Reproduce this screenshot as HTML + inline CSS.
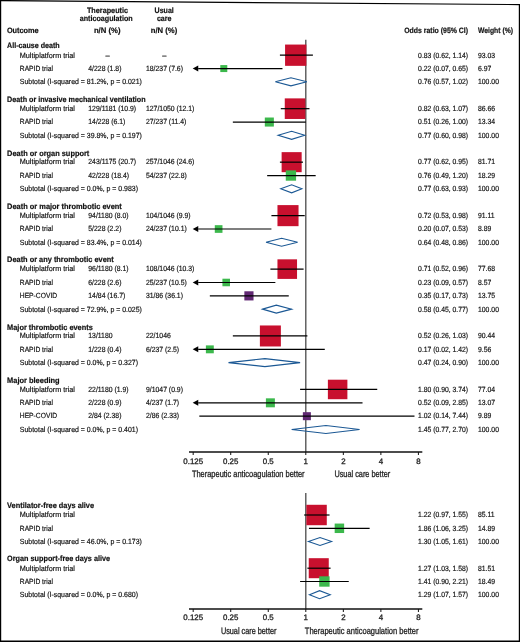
<!DOCTYPE html>
<html><head><meta charset="utf-8"><style>
html,body{margin:0;padding:0;background:#fff;}
svg{display:block;will-change:transform;}
text{font-family:"Liberation Sans",sans-serif;fill:#111;text-rendering:geometricPrecision;stroke:#111;stroke-width:0.18px;}
text.c{fill:#222;stroke:#222;stroke-width:0.3px;}
</style></head><body>
<svg width="520" height="642" viewBox="0 0 520 642">
<rect width="520" height="642" fill="#fff"/>
<line x1="305.80" y1="39.8" x2="305.80" y2="452.0" stroke="#4a4a4a" stroke-width="1.3"/><line x1="189" y1="452.0" x2="422.3" y2="452.0" stroke="#111" stroke-width="1.35"/><line x1="193.18" y1="452.0" x2="193.18" y2="455.0" stroke="#111" stroke-width="1"/><line x1="230.72" y1="452.0" x2="230.72" y2="455.0" stroke="#111" stroke-width="1"/><line x1="268.26" y1="452.0" x2="268.26" y2="455.0" stroke="#111" stroke-width="1"/><line x1="305.80" y1="452.0" x2="305.80" y2="455.0" stroke="#111" stroke-width="1"/><line x1="343.34" y1="452.0" x2="343.34" y2="455.0" stroke="#111" stroke-width="1"/><line x1="380.88" y1="452.0" x2="380.88" y2="455.0" stroke="#111" stroke-width="1"/><line x1="418.42" y1="452.0" x2="418.42" y2="455.0" stroke="#111" stroke-width="1"/><line x1="305.80" y1="493.0" x2="305.80" y2="609.0" stroke="#4a4a4a" stroke-width="1.3"/><line x1="189" y1="609.0" x2="422.3" y2="609.0" stroke="#111" stroke-width="1.35"/><line x1="193.18" y1="609.0" x2="193.18" y2="612.0" stroke="#111" stroke-width="1"/><line x1="230.72" y1="609.0" x2="230.72" y2="612.0" stroke="#111" stroke-width="1"/><line x1="268.26" y1="609.0" x2="268.26" y2="612.0" stroke="#111" stroke-width="1"/><line x1="305.80" y1="609.0" x2="305.80" y2="612.0" stroke="#111" stroke-width="1"/><line x1="343.34" y1="609.0" x2="343.34" y2="612.0" stroke="#111" stroke-width="1"/><line x1="380.88" y1="609.0" x2="380.88" y2="612.0" stroke="#111" stroke-width="1"/><line x1="418.42" y1="609.0" x2="418.42" y2="612.0" stroke="#111" stroke-width="1"/>
<rect x="285.07" y="44.56" width="21.28" height="21.28" fill="#c8102e"/><line x1="279.91" y1="55.20" x2="312.90" y2="55.20" stroke="#000" stroke-width="1.2"/><rect x="220.30" y="65.08" width="6.99" height="6.99" fill="#3cb84c"/><line x1="198.18" y1="68.57" x2="282.47" y2="68.57" stroke="#000" stroke-width="1.2"/><path d="M192.68,68.57 L198.28,65.57 L198.28,71.57 Z" fill="#000"/><path d="M275.36,81.84 L290.94,77.84 L306.87,81.84 L290.94,85.84 Z" fill="none" stroke="#1b5894" stroke-width="1.1"/><rect x="284.76" y="98.38" width="20.59" height="20.59" fill="#c8102e"/><line x1="280.78" y1="108.68" x2="309.46" y2="108.68" stroke="#000" stroke-width="1.2"/><rect x="264.81" y="117.52" width="9.05" height="9.05" fill="#3cb84c"/><line x1="232.84" y1="122.05" x2="305.80" y2="122.05" stroke="#000" stroke-width="1.2"/><path d="M278.13,135.32 L291.64,131.32 L304.71,135.32 L291.64,139.32 Z" fill="none" stroke="#1b5894" stroke-width="1.1"/><rect x="281.62" y="152.14" width="20.04" height="20.04" fill="#c8102e"/><line x1="279.91" y1="162.16" x2="303.02" y2="162.16" stroke="#000" stroke-width="1.2"/><rect x="285.77" y="170.37" width="10.32" height="10.32" fill="#3cb84c"/><line x1="267.17" y1="175.53" x2="315.67" y2="175.53" stroke="#000" stroke-width="1.2"/><path d="M280.78,188.80 L291.64,184.80 L301.87,188.80 L291.64,192.80 Z" fill="none" stroke="#1b5894" stroke-width="1.1"/><rect x="277.47" y="205.10" width="21.07" height="21.07" fill="#c8102e"/><line x1="271.42" y1="215.64" x2="304.71" y2="215.64" stroke="#000" stroke-width="1.2"/><rect x="214.79" y="225.17" width="7.68" height="7.68" fill="#3cb84c"/><line x1="198.18" y1="229.01" x2="271.42" y2="229.01" stroke="#000" stroke-width="1.2"/><path d="M192.68,229.01 L198.28,226.01 L198.28,232.01 Z" fill="#000"/><path d="M266.05,242.28 L281.63,238.28 L297.63,242.28 L281.63,246.28 Z" fill="none" stroke="#1b5894" stroke-width="1.1"/><rect x="277.46" y="259.33" width="19.58" height="19.58" fill="#c8102e"/><line x1="270.38" y1="269.12" x2="303.59" y2="269.12" stroke="#000" stroke-width="1.2"/><rect x="222.42" y="278.70" width="7.57" height="7.57" fill="#3cb84c"/><line x1="198.18" y1="282.49" x2="275.36" y2="282.49" stroke="#000" stroke-width="1.2"/><path d="M192.68,282.49 L198.28,279.49 L198.28,285.49 Z" fill="#000"/><rect x="244.36" y="291.28" width="9.16" height="9.16" fill="#612873"/><line x1="209.83" y1="295.86" x2="288.76" y2="295.86" stroke="#000" stroke-width="1.2"/><path d="M262.55,309.13 L276.30,305.13 L291.64,309.13 L276.30,313.13 Z" fill="none" stroke="#1b5894" stroke-width="1.1"/><rect x="259.88" y="325.47" width="21.00" height="21.00" fill="#c8102e"/><line x1="232.84" y1="335.97" x2="307.40" y2="335.97" stroke="#000" stroke-width="1.2"/><rect x="205.88" y="345.39" width="7.91" height="7.91" fill="#3cb84c"/><line x1="198.18" y1="349.34" x2="324.79" y2="349.34" stroke="#000" stroke-width="1.2"/><path d="M192.68,349.34 L198.28,346.34 L198.28,352.34 Z" fill="#000"/><path d="M228.51,362.61 L264.91,358.61 L300.09,362.61 L264.91,366.61 Z" fill="none" stroke="#1b5894" stroke-width="1.1"/><rect x="327.88" y="379.70" width="19.51" height="19.51" fill="#c8102e"/><line x1="300.09" y1="389.45" x2="377.24" y2="389.45" stroke="#000" stroke-width="1.2"/><rect x="265.90" y="398.33" width="8.98" height="8.98" fill="#3cb84c"/><line x1="198.18" y1="402.82" x2="362.52" y2="402.82" stroke="#000" stroke-width="1.2"/><path d="M192.68,402.82 L198.28,399.82 L198.28,405.82 Z" fill="#000"/><rect x="302.86" y="412.18" width="8.02" height="8.02" fill="#612873"/><line x1="199.32" y1="416.19" x2="414.49" y2="416.19" stroke="#000" stroke-width="1.2"/><path d="M291.64,429.46 L325.92,425.46 L359.59,429.46 L325.92,433.46 Z" fill="none" stroke="#1b5894" stroke-width="1.1"/><rect x="306.36" y="504.79" width="20.42" height="20.42" fill="#c8102e"/><line x1="304.15" y1="515.00" x2="329.54" y2="515.00" stroke="#000" stroke-width="1.2"/><rect x="334.67" y="523.56" width="9.47" height="9.47" fill="#3cb84c"/><line x1="308.96" y1="528.30" x2="369.63" y2="528.30" stroke="#000" stroke-width="1.2"/><path d="M308.44,541.50 L320.01,537.50 L331.59,541.50 L320.01,545.50 Z" fill="none" stroke="#1b5894" stroke-width="1.1"/><rect x="308.74" y="558.19" width="20.02" height="20.02" fill="#c8102e"/><line x1="307.40" y1="568.20" x2="330.57" y2="568.20" stroke="#000" stroke-width="1.2"/><rect x="319.22" y="576.31" width="10.37" height="10.37" fill="#3cb84c"/><line x1="300.09" y1="581.50" x2="348.75" y2="581.50" stroke="#000" stroke-width="1.2"/><path d="M309.46,594.70 L319.59,590.70 L330.23,594.70 L319.59,598.70 Z" fill="none" stroke="#1b5894" stroke-width="1.1"/>
<text x="107.50" y="12.70" text-anchor="middle" font-weight="bold" font-size="7.9" textLength="41.10" lengthAdjust="spacingAndGlyphs">Therapeutic</text><text x="106.20" y="21.20" text-anchor="middle" font-weight="bold" font-size="7.9" textLength="53.10" lengthAdjust="spacingAndGlyphs">anticoagulation</text><text x="107.20" y="32.80" text-anchor="middle" font-weight="bold" font-size="7.9" textLength="26.60" lengthAdjust="spacingAndGlyphs">n/N (%)</text><text x="164.20" y="12.70" text-anchor="middle" font-weight="bold" font-size="7.9" textLength="19.20" lengthAdjust="spacingAndGlyphs">Usual</text><text x="164.20" y="21.20" text-anchor="middle" font-weight="bold" font-size="7.9" textLength="14.60" lengthAdjust="spacingAndGlyphs">care</text><text x="164.00" y="32.80" text-anchor="middle" font-weight="bold" font-size="7.9" textLength="26.50" lengthAdjust="spacingAndGlyphs">n/N (%)</text><text x="6.90" y="32.70" font-weight="bold" font-size="7.9" textLength="31.80" lengthAdjust="spacingAndGlyphs">Outcome</text><text x="404.20" y="33.20" font-weight="bold" font-size="7.9" textLength="63.90" lengthAdjust="spacingAndGlyphs">Odds ratio (95% CI)</text><text x="478.00" y="33.20" font-weight="bold" font-size="7.9" textLength="35.00" lengthAdjust="spacingAndGlyphs">Weight (%)</text><text x="7.10" y="47.60" font-weight="bold" font-size="7.9" textLength="52.60" lengthAdjust="spacingAndGlyphs">All-cause death</text><text x="19.80" y="57.50" font-size="7.5" textLength="55.20" lengthAdjust="spacingAndGlyphs">Multiplatform trial</text><text x="107.70" y="57.50" text-anchor="middle" font-size="7.5">–</text><text x="164.30" y="57.50" text-anchor="middle" font-size="7.5">–</text><text x="468.10" y="57.50" text-anchor="end" font-size="7.5" textLength="50.00" lengthAdjust="spacingAndGlyphs">0.83 (0.62, 1.14)</text><text x="478.00" y="57.50" font-size="7.5" textLength="17.14" lengthAdjust="spacingAndGlyphs">93.03</text><text x="19.80" y="70.87" font-size="7.5" textLength="33.10" lengthAdjust="spacingAndGlyphs">RAPID trial</text><text x="88.30" y="70.87" font-size="7.5" textLength="33.13" lengthAdjust="spacingAndGlyphs">4/228 (1.8)</text><text x="146.00" y="70.87" font-size="7.5" textLength="36.94" lengthAdjust="spacingAndGlyphs">18/237 (7.6)</text><text x="468.10" y="70.87" text-anchor="end" font-size="7.5" textLength="50.00" lengthAdjust="spacingAndGlyphs">0.22 (0.07, 0.65)</text><text x="478.00" y="70.87" font-size="7.5" textLength="13.33" lengthAdjust="spacingAndGlyphs">6.97</text><text x="19.80" y="84.24" font-size="7.5" textLength="122.08" lengthAdjust="spacingAndGlyphs">Subtotal (I-squared = 81.2%, p = 0.021)</text><text x="468.10" y="84.24" text-anchor="end" font-size="7.5" textLength="50.00" lengthAdjust="spacingAndGlyphs">0.76 (0.57, 1.02)</text><text x="478.00" y="84.24" font-size="7.5" textLength="20.95" lengthAdjust="spacingAndGlyphs">100.00</text><text x="7.10" y="101.50" font-weight="bold" font-size="7.9" textLength="138.50" lengthAdjust="spacingAndGlyphs">Death or invasive mechanical ventilation</text><text x="19.80" y="110.98" font-size="7.5" textLength="55.20" lengthAdjust="spacingAndGlyphs">Multiplatform trial</text><text x="88.30" y="110.98" font-size="7.5" textLength="47.85" lengthAdjust="spacingAndGlyphs">129/1181 (10.9)</text><text x="146.00" y="110.98" font-size="7.5" textLength="48.36" lengthAdjust="spacingAndGlyphs">127/1050 (12.1)</text><text x="468.10" y="110.98" text-anchor="end" font-size="7.5" textLength="50.00" lengthAdjust="spacingAndGlyphs">0.82 (0.63, 1.07)</text><text x="478.00" y="110.98" font-size="7.5" textLength="17.14" lengthAdjust="spacingAndGlyphs">86.66</text><text x="19.80" y="124.35" font-size="7.5" textLength="33.10" lengthAdjust="spacingAndGlyphs">RAPID trial</text><text x="88.30" y="124.35" font-size="7.5" textLength="36.94" lengthAdjust="spacingAndGlyphs">14/228 (6.1)</text><text x="146.00" y="124.35" font-size="7.5" textLength="40.24" lengthAdjust="spacingAndGlyphs">27/237 (11.4)</text><text x="468.10" y="124.35" text-anchor="end" font-size="7.5" textLength="50.00" lengthAdjust="spacingAndGlyphs">0.51 (0.26, 1.00)</text><text x="478.00" y="124.35" font-size="7.5" textLength="17.14" lengthAdjust="spacingAndGlyphs">13.34</text><text x="19.80" y="137.72" font-size="7.5" textLength="122.08" lengthAdjust="spacingAndGlyphs">Subtotal (I-squared = 39.8%, p = 0.197)</text><text x="468.10" y="137.72" text-anchor="end" font-size="7.5" textLength="50.00" lengthAdjust="spacingAndGlyphs">0.77 (0.60, 0.98)</text><text x="478.00" y="137.72" font-size="7.5" textLength="20.95" lengthAdjust="spacingAndGlyphs">100.00</text><text x="7.10" y="155.90" font-weight="bold" font-size="7.9" textLength="82.20" lengthAdjust="spacingAndGlyphs">Death or organ support</text><text x="19.80" y="164.46" font-size="7.5" textLength="55.20" lengthAdjust="spacingAndGlyphs">Multiplatform trial</text><text x="88.30" y="164.46" font-size="7.5" textLength="47.85" lengthAdjust="spacingAndGlyphs">243/1175 (20.7)</text><text x="146.00" y="164.46" font-size="7.5" textLength="48.36" lengthAdjust="spacingAndGlyphs">257/1046 (24.6)</text><text x="468.10" y="164.46" text-anchor="end" font-size="7.5" textLength="50.00" lengthAdjust="spacingAndGlyphs">0.77 (0.62, 0.95)</text><text x="478.00" y="164.46" font-size="7.5" textLength="17.14" lengthAdjust="spacingAndGlyphs">81.71</text><text x="19.80" y="177.83" font-size="7.5" textLength="33.10" lengthAdjust="spacingAndGlyphs">RAPID trial</text><text x="88.30" y="177.83" font-size="7.5" textLength="40.74" lengthAdjust="spacingAndGlyphs">42/228 (18.4)</text><text x="146.00" y="177.83" font-size="7.5" textLength="40.74" lengthAdjust="spacingAndGlyphs">54/237 (22.8)</text><text x="468.10" y="177.83" text-anchor="end" font-size="7.5" textLength="50.00" lengthAdjust="spacingAndGlyphs">0.76 (0.49, 1.20)</text><text x="478.00" y="177.83" font-size="7.5" textLength="17.14" lengthAdjust="spacingAndGlyphs">18.29</text><text x="19.80" y="191.20" font-size="7.5" textLength="118.22" lengthAdjust="spacingAndGlyphs">Subtotal (I-squared = 0.0%, p = 0.983)</text><text x="468.10" y="191.20" text-anchor="end" font-size="7.5" textLength="50.00" lengthAdjust="spacingAndGlyphs">0.77 (0.63, 0.93)</text><text x="478.00" y="191.20" font-size="7.5" textLength="20.95" lengthAdjust="spacingAndGlyphs">100.00</text><text x="7.10" y="208.50" font-weight="bold" font-size="7.9" textLength="114.70" lengthAdjust="spacingAndGlyphs">Death or major thrombotic event</text><text x="19.80" y="217.94" font-size="7.5" textLength="55.20" lengthAdjust="spacingAndGlyphs">Multiplatform trial</text><text x="88.30" y="217.94" font-size="7.5" textLength="40.24" lengthAdjust="spacingAndGlyphs">94/1180 (8.0)</text><text x="146.00" y="217.94" font-size="7.5" textLength="44.55" lengthAdjust="spacingAndGlyphs">104/1046 (9.9)</text><text x="468.10" y="217.94" text-anchor="end" font-size="7.5" textLength="50.00" lengthAdjust="spacingAndGlyphs">0.72 (0.53, 0.98)</text><text x="478.00" y="217.94" font-size="7.5" textLength="16.63" lengthAdjust="spacingAndGlyphs">91.11</text><text x="19.80" y="231.31" font-size="7.5" textLength="33.10" lengthAdjust="spacingAndGlyphs">RAPID trial</text><text x="88.30" y="231.31" font-size="7.5" textLength="33.13" lengthAdjust="spacingAndGlyphs">5/228 (2.2)</text><text x="146.00" y="231.31" font-size="7.5" textLength="40.74" lengthAdjust="spacingAndGlyphs">24/237 (10.1)</text><text x="468.10" y="231.31" text-anchor="end" font-size="7.5" textLength="50.00" lengthAdjust="spacingAndGlyphs">0.20 (0.07, 0.53)</text><text x="478.00" y="231.31" font-size="7.5" textLength="13.33" lengthAdjust="spacingAndGlyphs">8.89</text><text x="19.80" y="244.68" font-size="7.5" textLength="122.08" lengthAdjust="spacingAndGlyphs">Subtotal (I-squared = 83.4%, p = 0.014)</text><text x="468.10" y="244.68" text-anchor="end" font-size="7.5" textLength="50.00" lengthAdjust="spacingAndGlyphs">0.64 (0.48, 0.86)</text><text x="478.00" y="244.68" font-size="7.5" textLength="20.95" lengthAdjust="spacingAndGlyphs">100.00</text><text x="7.10" y="262.20" font-weight="bold" font-size="7.9" textLength="106.70" lengthAdjust="spacingAndGlyphs">Death or any thrombotic event</text><text x="19.80" y="271.42" font-size="7.5" textLength="55.20" lengthAdjust="spacingAndGlyphs">Multiplatform trial</text><text x="88.30" y="271.42" font-size="7.5" textLength="40.24" lengthAdjust="spacingAndGlyphs">96/1180 (8.1)</text><text x="146.00" y="271.42" font-size="7.5" textLength="48.36" lengthAdjust="spacingAndGlyphs">108/1046 (10.3)</text><text x="468.10" y="271.42" text-anchor="end" font-size="7.5" textLength="50.00" lengthAdjust="spacingAndGlyphs">0.71 (0.52, 0.96)</text><text x="478.00" y="271.42" font-size="7.5" textLength="17.14" lengthAdjust="spacingAndGlyphs">77.68</text><text x="19.80" y="284.79" font-size="7.5" textLength="33.10" lengthAdjust="spacingAndGlyphs">RAPID trial</text><text x="88.30" y="284.79" font-size="7.5" textLength="33.13" lengthAdjust="spacingAndGlyphs">6/228 (2.6)</text><text x="146.00" y="284.79" font-size="7.5" textLength="40.74" lengthAdjust="spacingAndGlyphs">25/237 (10.5)</text><text x="468.10" y="284.79" text-anchor="end" font-size="7.5" textLength="50.00" lengthAdjust="spacingAndGlyphs">0.23 (0.09, 0.57)</text><text x="478.00" y="284.79" font-size="7.5" textLength="13.33" lengthAdjust="spacingAndGlyphs">8.57</text><text x="19.80" y="298.16" font-size="7.5" textLength="37.30" lengthAdjust="spacingAndGlyphs">HEP-COVID</text><text x="88.30" y="298.16" font-size="7.5" textLength="36.94" lengthAdjust="spacingAndGlyphs">14/84 (16.7)</text><text x="146.00" y="298.16" font-size="7.5" textLength="36.94" lengthAdjust="spacingAndGlyphs">31/86 (36.1)</text><text x="468.10" y="298.16" text-anchor="end" font-size="7.5" textLength="50.00" lengthAdjust="spacingAndGlyphs">0.35 (0.17, 0.73)</text><text x="478.00" y="298.16" font-size="7.5" textLength="17.14" lengthAdjust="spacingAndGlyphs">13.75</text><text x="19.80" y="311.53" font-size="7.5" textLength="122.08" lengthAdjust="spacingAndGlyphs">Subtotal (I-squared = 72.9%, p = 0.025)</text><text x="468.10" y="311.53" text-anchor="end" font-size="7.5" textLength="50.00" lengthAdjust="spacingAndGlyphs">0.58 (0.45, 0.77)</text><text x="478.00" y="311.53" font-size="7.5" textLength="20.95" lengthAdjust="spacingAndGlyphs">100.00</text><text x="7.10" y="329.50" font-weight="bold" font-size="7.9" textLength="85.70" lengthAdjust="spacingAndGlyphs">Major thrombotic events</text><text x="19.80" y="338.27" font-size="7.5" textLength="55.20" lengthAdjust="spacingAndGlyphs">Multiplatform trial</text><text x="88.30" y="338.27" font-size="7.5" textLength="24.25" lengthAdjust="spacingAndGlyphs">13/1180</text><text x="146.00" y="338.27" font-size="7.5" textLength="24.76" lengthAdjust="spacingAndGlyphs">22/1046</text><text x="468.10" y="338.27" text-anchor="end" font-size="7.5" textLength="50.00" lengthAdjust="spacingAndGlyphs">0.52 (0.26, 1.03)</text><text x="478.00" y="338.27" font-size="7.5" textLength="17.14" lengthAdjust="spacingAndGlyphs">90.44</text><text x="19.80" y="351.64" font-size="7.5" textLength="33.10" lengthAdjust="spacingAndGlyphs">RAPID trial</text><text x="88.30" y="351.64" font-size="7.5" textLength="33.13" lengthAdjust="spacingAndGlyphs">1/228 (0.4)</text><text x="146.00" y="351.64" font-size="7.5" textLength="33.13" lengthAdjust="spacingAndGlyphs">6/237 (2.5)</text><text x="468.10" y="351.64" text-anchor="end" font-size="7.5" textLength="50.00" lengthAdjust="spacingAndGlyphs">0.17 (0.02, 1.42)</text><text x="478.00" y="351.64" font-size="7.5" textLength="13.33" lengthAdjust="spacingAndGlyphs">9.56</text><text x="19.80" y="365.01" font-size="7.5" textLength="118.22" lengthAdjust="spacingAndGlyphs">Subtotal (I-squared = 0.0%, p = 0.327)</text><text x="468.10" y="365.01" text-anchor="end" font-size="7.5" textLength="50.00" lengthAdjust="spacingAndGlyphs">0.47 (0.24, 0.90)</text><text x="478.00" y="365.01" font-size="7.5" textLength="20.95" lengthAdjust="spacingAndGlyphs">100.00</text><text x="7.10" y="382.70" font-weight="bold" font-size="7.9" textLength="52.50" lengthAdjust="spacingAndGlyphs">Major bleeding</text><text x="19.80" y="391.75" font-size="7.5" textLength="55.20" lengthAdjust="spacingAndGlyphs">Multiplatform trial</text><text x="88.30" y="391.75" font-size="7.5" textLength="40.24" lengthAdjust="spacingAndGlyphs">22/1180 (1.9)</text><text x="146.00" y="391.75" font-size="7.5" textLength="36.94" lengthAdjust="spacingAndGlyphs">9/1047 (0.9)</text><text x="468.10" y="391.75" text-anchor="end" font-size="7.5" textLength="50.00" lengthAdjust="spacingAndGlyphs">1.80 (0.90, 3.74)</text><text x="478.00" y="391.75" font-size="7.5" textLength="17.14" lengthAdjust="spacingAndGlyphs">77.04</text><text x="19.80" y="405.12" font-size="7.5" textLength="33.10" lengthAdjust="spacingAndGlyphs">RAPID trial</text><text x="88.30" y="405.12" font-size="7.5" textLength="33.13" lengthAdjust="spacingAndGlyphs">2/228 (0.9)</text><text x="146.00" y="405.12" font-size="7.5" textLength="33.13" lengthAdjust="spacingAndGlyphs">4/237 (1.7)</text><text x="468.10" y="405.12" text-anchor="end" font-size="7.5" textLength="50.00" lengthAdjust="spacingAndGlyphs">0.52 (0.09, 2.85)</text><text x="478.00" y="405.12" font-size="7.5" textLength="17.14" lengthAdjust="spacingAndGlyphs">13.07</text><text x="19.80" y="418.49" font-size="7.5" textLength="37.30" lengthAdjust="spacingAndGlyphs">HEP-COVID</text><text x="88.30" y="418.49" font-size="7.5" textLength="33.13" lengthAdjust="spacingAndGlyphs">2/84 (2.38)</text><text x="146.00" y="418.49" font-size="7.5" textLength="33.13" lengthAdjust="spacingAndGlyphs">2/86 (2.33)</text><text x="468.10" y="418.49" text-anchor="end" font-size="7.5" textLength="50.00" lengthAdjust="spacingAndGlyphs">1.02 (0.14, 7.44)</text><text x="478.00" y="418.49" font-size="7.5" textLength="13.33" lengthAdjust="spacingAndGlyphs">9.89</text><text x="19.80" y="431.86" font-size="7.5" textLength="118.22" lengthAdjust="spacingAndGlyphs">Subtotal (I-squared = 0.0%, p = 0.401)</text><text x="468.10" y="431.86" text-anchor="end" font-size="7.5" textLength="50.00" lengthAdjust="spacingAndGlyphs">1.45 (0.77, 2.70)</text><text x="478.00" y="431.86" font-size="7.5" textLength="20.95" lengthAdjust="spacingAndGlyphs">100.00</text><text x="7.10" y="508.30" font-weight="bold" font-size="7.9" textLength="87.00" lengthAdjust="spacingAndGlyphs">Ventilator-free days alive</text><text x="19.80" y="517.30" font-size="7.5" textLength="55.20" lengthAdjust="spacingAndGlyphs">Multiplatform trial</text><text x="468.10" y="517.30" text-anchor="end" font-size="7.5" textLength="50.00" lengthAdjust="spacingAndGlyphs">1.22 (0.97, 1.55)</text><text x="478.00" y="517.30" font-size="7.5" textLength="16.63" lengthAdjust="spacingAndGlyphs">85.11</text><text x="19.80" y="530.60" font-size="7.5" textLength="33.10" lengthAdjust="spacingAndGlyphs">RAPID trial</text><text x="468.10" y="530.60" text-anchor="end" font-size="7.5" textLength="50.00" lengthAdjust="spacingAndGlyphs">1.86 (1.06, 3.25)</text><text x="478.00" y="530.60" font-size="7.5" textLength="17.14" lengthAdjust="spacingAndGlyphs">14.89</text><text x="19.80" y="543.90" font-size="7.5" textLength="122.08" lengthAdjust="spacingAndGlyphs">Subtotal (I-squared = 46.0%, p = 0.173)</text><text x="468.10" y="543.90" text-anchor="end" font-size="7.5" textLength="50.00" lengthAdjust="spacingAndGlyphs">1.30 (1.05, 1.61)</text><text x="478.00" y="543.90" font-size="7.5" textLength="20.95" lengthAdjust="spacingAndGlyphs">100.00</text><text x="7.10" y="561.20" font-weight="bold" font-size="7.9" textLength="103.00" lengthAdjust="spacingAndGlyphs">Organ support-free days alive</text><text x="19.80" y="570.50" font-size="7.5" textLength="55.20" lengthAdjust="spacingAndGlyphs">Multiplatform trial</text><text x="468.10" y="570.50" text-anchor="end" font-size="7.5" textLength="50.00" lengthAdjust="spacingAndGlyphs">1.27 (1.03, 1.58)</text><text x="478.00" y="570.50" font-size="7.5" textLength="17.14" lengthAdjust="spacingAndGlyphs">81.51</text><text x="19.80" y="583.80" font-size="7.5" textLength="33.10" lengthAdjust="spacingAndGlyphs">RAPID trial</text><text x="468.10" y="583.80" text-anchor="end" font-size="7.5" textLength="50.00" lengthAdjust="spacingAndGlyphs">1.41 (0.90, 2.21)</text><text x="478.00" y="583.80" font-size="7.5" textLength="17.14" lengthAdjust="spacingAndGlyphs">18.49</text><text x="19.80" y="597.10" font-size="7.5" textLength="118.22" lengthAdjust="spacingAndGlyphs">Subtotal (I-squared = 0.0%, p = 0.680)</text><text x="468.10" y="597.10" text-anchor="end" font-size="7.5" textLength="50.00" lengthAdjust="spacingAndGlyphs">1.29 (1.07, 1.57)</text><text x="478.00" y="597.10" font-size="7.5" textLength="20.95" lengthAdjust="spacingAndGlyphs">100.00</text><text x="193.18" y="464.00" text-anchor="middle" font-size="7.9" class="c">0.125</text><text x="230.72" y="464.00" text-anchor="middle" font-size="7.9" class="c">0.25</text><text x="268.26" y="464.00" text-anchor="middle" font-size="7.9" class="c">0.5</text><text x="305.80" y="464.00" text-anchor="middle" font-size="7.9" class="c">1</text><text x="343.34" y="464.00" text-anchor="middle" font-size="7.9" class="c">2</text><text x="380.88" y="464.00" text-anchor="middle" font-size="7.9" class="c">4</text><text x="418.42" y="464.00" text-anchor="middle" font-size="7.9" class="c">8</text><text x="191.90" y="476.70" font-size="9.4" textLength="112.70" lengthAdjust="spacingAndGlyphs" class="c">Therapeutic anticoagulation better</text><text x="334.40" y="476.70" font-size="9.4" textLength="55.80" lengthAdjust="spacingAndGlyphs" class="c">Usual care better</text><text x="193.18" y="620.40" text-anchor="middle" font-size="7.9" class="c">0.125</text><text x="230.72" y="620.40" text-anchor="middle" font-size="7.9" class="c">0.25</text><text x="268.26" y="620.40" text-anchor="middle" font-size="7.9" class="c">0.5</text><text x="305.80" y="620.40" text-anchor="middle" font-size="7.9" class="c">1</text><text x="343.34" y="620.40" text-anchor="middle" font-size="7.9" class="c">2</text><text x="380.88" y="620.40" text-anchor="middle" font-size="7.9" class="c">4</text><text x="418.42" y="620.40" text-anchor="middle" font-size="7.9" class="c">8</text><text x="220.90" y="633.90" font-size="9.4" textLength="55.50" lengthAdjust="spacingAndGlyphs" class="c">Usual care better</text><text x="304.80" y="633.90" font-size="9.4" textLength="113.70" lengthAdjust="spacingAndGlyphs" class="c">Therapeutic anticoagulation better</text>
<line x1="0.6" y1="0" x2="0.6" y2="642" stroke="#000" stroke-width="1.2"/><line x1="0" y1="0.55" x2="520" y2="4.6" stroke="#000" stroke-width="1.2"/><line x1="519.4" y1="4" x2="519.4" y2="642" stroke="#000" stroke-width="1.2"/><line x1="0" y1="641.3" x2="520" y2="641.3" stroke="#000" stroke-width="1.4"/>
</svg></body></html>
